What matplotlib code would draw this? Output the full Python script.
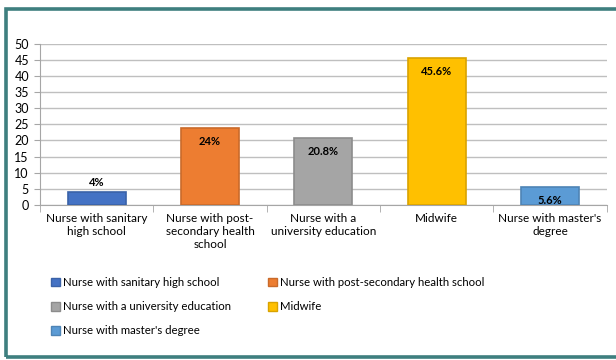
import matplotlib
matplotlib.use("Agg")
import matplotlib.pyplot as plt
from matplotlib.patches import Rectangle, Patch
import numpy as np

plt.rcParams['font.family'] = ['Lato', 'DejaVu Sans']

categories = ["Nurse with sanitary high school",
              "Nurse with post-secondary health school",
              "Nurse with a university education",
              "Midwife",
              "Nurse with master's degree"]
tick_labels = ["Nurse with sanitary\nhigh school",
               "Nurse with post-\nsecondary health\nschool",
               "Nurse with a\nuniversity education",
               "Midwife",
               "Nurse with master's\ndegree"]
percent = [4, 24, 20.8, 45.6, 5.6]
bar_labels = ["4%", "24%", "20.8%", "45.6%", "5.6%"]
colors = ["#4472C4", "#ED7D31", "#A5A5A5", "#FFC000", "#5B9BD5"]
edges = ["#3A62A8", "#C96A2A", "#8C8C8C", "#D9A300", "#4E84B5"]

fig = plt.figure(figsize=(6.16, 3.6), dpi=100)
ax = fig.add_axes([0.065, 0.431, 0.92, 0.447])

x = np.arange(len(percent))
bars = ax.bar(x, percent, width=0.51, color=colors, edgecolor=edges, linewidth=1.2, zorder=3)

for b, v, lab in zip(bars, percent, bar_labels):
    if v < 5:
        ax.annotate(lab, (b.get_x() + b.get_width() / 2, v), xytext=(0, 3),
                    textcoords="offset points", ha="center", va="bottom",
                    fontsize=8, fontweight="bold")
    else:
        ax.annotate(lab, (b.get_x() + b.get_width() / 2, v), xytext=(0, -6),
                    textcoords="offset points", ha="center", va="top",
                    fontsize=8, fontweight="bold")

ax.set_xlim(-0.5, len(percent) - 0.5)
ax.set_ylim(0, 50)
ax.set_yticks(range(0, 51, 5))
ax.yaxis.grid(True, color="#BFBFBF", linewidth=1.0, zorder=0)
ax.set_axisbelow(True)

ax.set_xticks(x)
ax.set_xticklabels(tick_labels, fontsize=8.5)
ax.tick_params(axis="x", length=0, pad=6)
ax.set_xticks(np.arange(-0.5, len(percent)), minor=True)
ax.tick_params(axis="x", which="minor", length=5, color="#A6A6A6")
ax.tick_params(axis="y", length=4, color="#A6A6A6", labelsize=9, pad=4)

for s in ["top", "right"]:
    ax.spines[s].set_visible(False)
ax.spines["left"].set_color("#A6A6A6")
ax.spines["bottom"].set_color("#A6A6A6")

# legend laid out row by row over two columns
handles = [Patch(facecolor=c, edgecolor=e) for c, e in zip(colors, edges)]
order = [0, 2, 4, 1, 3]
fig.legend([handles[i] for i in order], [categories[i] for i in order],
           ncol=2, loc="upper left", bbox_to_anchor=(0.075, 0.243),
           frameon=False, fontsize=8.2, handlelength=0.8, handleheight=0.8,
           handletextpad=0.3, columnspacing=3.2, labelspacing=1.15,
           borderaxespad=0)

# teal frame around the figure
fig.patches.append(Rectangle((5.5 / 616, 3.5 / 360), 1.0, 348 / 360,
                             transform=fig.transFigure, fill=False,
                             edgecolor="#3E7F7F", linewidth=2.6))

fig.savefig("out.png", dpi=100)
